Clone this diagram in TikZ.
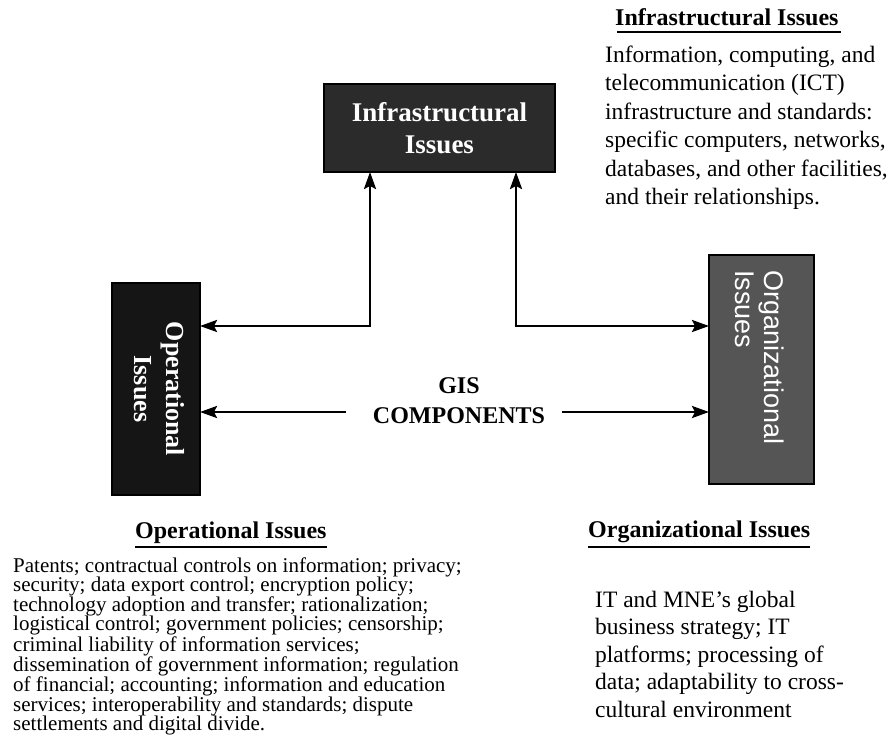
\documentclass[tikz,border=0pt]{standalone}
\usepackage{fontspec}
\setmainfont{Liberation Serif}
\newfontfamily\sansf{Liberation Sans}
\usetikzlibrary{arrows.meta}
\definecolor{infrafill}{HTML}{2B2B2B}
\definecolor{opfill}{HTML}{151515}
\definecolor{orgfill}{HTML}{555555}
\begin{document}
\begin{tikzpicture}[x=1pt,y=-1pt,
  tip/.tip={Stealth[length=17pt,width=12pt,inset=3pt]},
  conn/.style={line width=2.5pt, tip-tip},
  oneway/.style={line width=2.5pt, -tip},
  darkbox/.style={draw=black, line width=2pt, inner sep=0pt, outer sep=0pt},
  heading/.style={anchor=base west, inner sep=0pt, font=\fontsize{24}{29}\selectfont\bfseries},
  body/.style={anchor=base west, inner sep=0pt},
  uline/.style={line width=2pt}
]
\useasboundingbox (0,0) rectangle (895,753);

% boxes
\node[darkbox, fill=infrafill, minimum width=231pt, minimum height=88pt,
      text=white, font=\fontsize{27}{32}\selectfont\bfseries]
      (infra) at (439.5,128) {\raisebox{3pt}{\parbox{220pt}{\centering Infrastructural\\Issues}}};
\node[darkbox, fill=opfill, minimum width=88pt, minimum height=212pt] (op) at (156,389) {};
\node[rotate=-90, text=white, align=center, inner sep=0pt,
      font=\fontsize{26}{32}\selectfont\bfseries] (optxt) at (159,389) {Operational\\Issues};
\node[darkbox, fill=orgfill, line width=2.5pt, minimum width=105pt, minimum height=229pt] (org) at (761.5,369.5) {};
\node[rotate=-90, text=white, align=left, inner sep=0pt, anchor=north west,
      font=\fontsize{27}{29}\sansf] (orgtxt) at (784,270) {Organizational\\Issues};

% GIS components
\node[anchor=base, inner sep=0pt, font=\fontsize{24}{29}\selectfont\bfseries] (gis) at (459,393) {GIS};
\node[anchor=base, inner sep=0pt, font=\fontsize{24}{29}\selectfont\bfseries] (comp) at (459,423) {COMPONENTS};

% connectors
\coordinate (jl) at (370,326);
\coordinate (jr) at (516,326);
\coordinate (cl) at (346,412);
\coordinate (cr) at (562,412);
\draw[conn] (op.east |- jl) -- (jl) -- (infra.south -| jl);
\draw[conn] (infra.south -| jr) -- (jr) -- (org.west |- jr);
\draw[oneway] (cl) -- (op.east |- cl);
\draw[oneway] (cr) -- (org.west |- cr);

% Infrastructural description
\node[heading] (h1) at (615,25) {Infrastructural Issues};
\draw[uline] ([shift={(2pt,-7pt)}]h1.base west) -- ([shift={(2pt,-7pt)}]h1.base east);
\node[body, font=\fontsize{23.5}{28.5}\selectfont] (t1) at (605,62)
  {\parbox[t]{300pt}{\raggedright Information, computing, and\\
   telecommunication (ICT)\\
   infrastructure and standards:\\
   specific computers, networks,\\
   databases, and other facilities,\\
   and their relationships.}};

% Operational description
\node[heading] (h2) at (135,538) {Operational Issues};
\draw[uline] ([yshift=-9pt]h2.base west) -- ([yshift=-9pt]h2.base east);
\node[body, font=\fontsize{21}{19.3}\selectfont] (t2) at (13,572)
  {\parbox[t]{480pt}{\raggedright Patents; contractual controls on information; privacy;\\
   security; data export control; encryption policy;\\
   technology adoption and transfer; rationalization;\\
   logistical control; government policies; censorship;\\
   criminal liability of information services;\\
   dissemination of government information; regulation\\
   of financial; accounting; information and education\\
   services; interoperability and standards; dispute\\
   settlements and digital divide.}};

% Organizational description
\node[heading] (h3) at (588,537) {Organizational Issues};
\draw[uline] ([yshift=-10pt]h3.base west) -- ([yshift=-10pt]h3.base east);
\node[body, font=\fontsize{23.5}{27.5}\selectfont] (t3) at (595,607)
  {\parbox[t]{300pt}{\raggedright IT and MNE’s global\\
   business strategy; IT\\
   platforms; processing of\\
   data; adaptability to cross-\\
   cultural environment}};
\end{tikzpicture}
\end{document}
